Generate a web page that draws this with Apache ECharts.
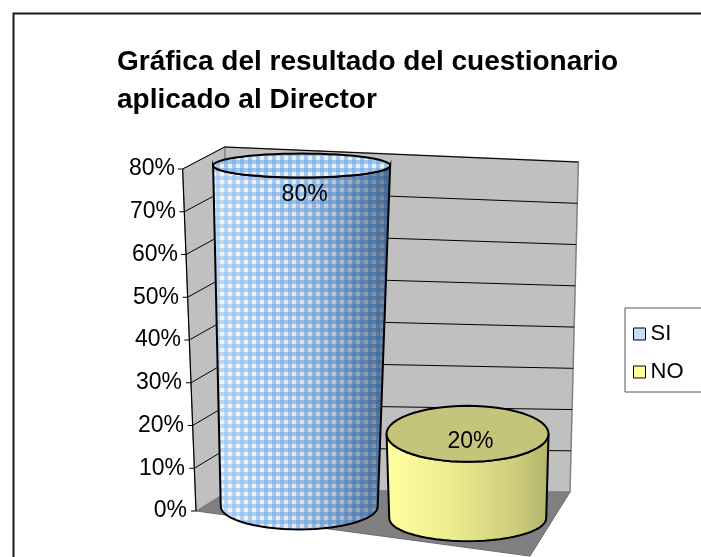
<!DOCTYPE html>
<html lang="es">
<head>
<meta charset="UTF-8">
<title>Gráfica del resultado del cuestionario</title>
<script src="https://cdn.jsdelivr.net/npm/echarts@6/dist/echarts.min.js"></script>
</head>
<body style="margin:0;background:#fff">
<div id="myChart" style="width:701px;height:557px;"></div>
<script>
    var categories = ['SI', 'NO'];
    var values = [0.8, 0.2];
    var yTicks = [0, 0.1, 0.2, 0.3, 0.4, 0.5, 0.6, 0.7, 0.8];
    var yMax = 0.8;

    var FONT = 'Liberation Sans, Arial, sans-serif';

    // little gingham tile for the SI cylinder
    function makePattern() {
        var c = document.createElement('canvas');
        c.width = 8;
        c.height = 8;
        var g = c.getContext('2d');
        g.fillStyle = '#eaeff4';
        g.fillRect(0, 0, 8, 8);
        g.fillStyle = 'rgba(110,170,235,0.6)';
        g.fillRect(0, 0, 8, 4);
        g.fillRect(0, 0, 4, 8);
        return c;
    }
    var pattern = { image: makePattern(), repeat: 'repeat' };

    function lerp(a, b, t) { return a + (b - a) * t; }

    // fake 3d: front plane point (px, value) pushed back by depth w (0 front .. 1 back)
    function proj(cs, api, px, v, w, tilt) {
        var u = (px - cs.x) / cs.width;
        var t = v / yMax;
        var py = api.coord([0, v])[1];
        var sx = px;
        if (tilt) sx += (px - (cs.x + cs.width / 2)) * 0.08 * t;
        var sy = py + (px - cs.x) * 0.135;
        var dx = lerp(lerp(34, 40, u), lerp(42, 35, u), t);
        var dy = lerp(lerp(-21, -64, u), lerp(-22, -52, u), t);
        return [sx + w * dx, sy + w * dy];
    }

    function arc(cx, cy, rx, ry, a0, a1, n) {
        var pts = [];
        for (var i = 0; i <= n; i++) {
            var a = a0 + (a1 - a0) * i / n;
            pts.push([cx + rx * Math.cos(a), cy + ry * Math.sin(a)]);
        }
        return pts;
    }

    function renderWalls(params, api) {
        var cs = params.coordSys;
        var v = api.value(1);
        var L = cs.x, R = cs.x + cs.width;
        var children = [];
        if (params.dataIndex === 0) {
            children.push({
                type: 'polygon',
                shape: { points: [proj(cs, api, L, 0, 0, true), proj(cs, api, R, 0, 0, true), proj(cs, api, R, 0, 1, true), proj(cs, api, L, 0, 1, true)] },
                style: { fill: '#808080', stroke: '#6a6a6a', lineWidth: 1 }
            });
            children.push({
                type: 'polygon',
                shape: { points: [proj(cs, api, L, 0, 1, true), proj(cs, api, R, 0, 1, true), proj(cs, api, R, yMax, 1, true), proj(cs, api, L, yMax, 1, true)] },
                style: { fill: '#c0c0c0', stroke: '#808080', lineWidth: 1.5 }
            });
            children.push({
                type: 'polygon',
                shape: { points: [proj(cs, api, L, 0, 0, true), proj(cs, api, L, 0, 1, true), proj(cs, api, L, yMax, 1, true), proj(cs, api, L, yMax, 0, true)] },
                style: { fill: '#c0c0c0', stroke: '#808080', lineWidth: 1 }
            });
            children.push({
                type: 'line',
                shape: (function () {
                    var a = proj(cs, api, L, 0, 0, true), b = proj(cs, api, L, yMax, 0, true);
                    return { x1: a[0], y1: a[1], x2: b[0], y2: b[1] };
                })(),
                style: { stroke: '#000', lineWidth: 1.2 }
            });
        } else {
            var p0 = proj(cs, api, L, v, 0, true);
            var p1 = proj(cs, api, L, v, 1, true);
            var p2 = proj(cs, api, R, v, 1, true);
            children.push({ type: 'polyline', shape: { points: [p0, p1, p2] }, style: { stroke: '#000', lineWidth: 1, fill: null } });
        }
        var pt = proj(cs, api, L, v, 0, true);
        children.push({ type: 'line', shape: { x1: pt[0] - 5, y1: pt[1], x2: pt[0], y2: pt[1] }, style: { stroke: '#000', lineWidth: 1 } });
        return { type: 'group', children: children };
    }

    function renderCylinder(params, api) {
        var cs = params.coordSys;
        var cat = api.value(0), v = api.value(1);
        var band = api.size([1, 0])[0];
        var px = api.coord([cat, 0])[0];
        var b = proj(cs, api, px, 0, 0.5, false);
        var t = proj(cs, api, px, v, 0.5, false);
        var rxB = band * 0.47, rxT = band * (0.47 + 0.06 * v / yMax);
        var ryB = 23, ryT = 33.3 - 26.7 * v;
        var body = [].concat(arc(b[0] + 2, b[1], rxB, ryB, Math.PI, 0, 30), arc(t[0] + 2, t[1], rxT, ryT, 0, Math.PI, 30));
        var lid = arc(t[0] + 2, t[1], rxT, ryT, 0, Math.PI * 2, 60);
        var isSI = cat === 0;
        var shade = {
            type: 'linear', x: 0, y: 0, x2: 1, y2: 0,
            colorStops: isSI ? [
                { offset: 0, color: 'rgba(255,255,255,0.35)' },
                { offset: 0.3, color: 'rgba(255,255,255,0.05)' },
                { offset: 0.65, color: 'rgba(0,40,90,0.18)' },
                { offset: 1, color: 'rgba(0,30,70,0.55)' }
            ] : [
                { offset: 0, color: '#ffffa0' },
                { offset: 0.4, color: '#ecec8e' },
                { offset: 0.8, color: '#cccc7c' },
                { offset: 1, color: '#b2b26a' }
            ]
        };
        var children = [];
        if (isSI) {
            children.push({ type: 'polygon', shape: { points: body }, style: { fill: pattern, stroke: null } });
        }
        children.push({ type: 'polygon', shape: { points: body }, style: { fill: shade, stroke: '#000', lineWidth: 2 } });
        children.push({
            type: 'polygon', shape: { points: lid },
            style: { fill: isSI ? pattern : '#c4c47a', stroke: '#000', lineWidth: 2 }
        });
        children.push({
            type: 'text',
            style: {
                text: Math.round(v * 100) + '%',
                x: t[0] + 5,
                y: t[1] + 29 - (ryT - 12) * 1.3,
                align: 'center', verticalAlign: 'middle',
                fontSize: 23, fontFamily: FONT, fill: '#000'
            }
        });
        return { type: 'group', children: children };
    }

    var rich = {};
    for (var k = 0; k <= 8; k++) {
        rich['t' + k] = { fontSize: 23, fontFamily: FONT, color: '#000', padding: [0, Math.round(1.5 * k), 0, 0] };
    }

    var myChart = echarts.init(document.getElementById('myChart'));
    var option = {
        animation: false,
        backgroundColor: '#fff',
        graphic: [{
            type: 'rect', left: 11, top: 11,
            shape: { width: 720, height: 600 },
            style: { fill: 'none', stroke: '#1a1a1a', lineWidth: 2 }
        }],
        title: {
            text: 'Gráfica del resultado del cuestionario\naplicado al Director',
            left: 117, top: 43, padding: 0,
            textStyle: { fontFamily: FONT, fontSize: 28, fontWeight: 'bold', color: '#000', lineHeight: 38 }
        },
        legend: {
            orient: 'vertical',
            left: 625, top: 308,
            padding: [15, 30, 9, 8],
            itemGap: 16,
            itemWidth: 12, itemHeight: 12,
            icon: 'rect',
            borderColor: '#555', borderWidth: 1,
            itemStyle: { borderColor: '#000', borderWidth: 1 },
            textStyle: { fontFamily: FONT, fontSize: 22, color: '#000' },
            data: categories
        },
        grid: { left: 196, top: 169, width: 334, height: 342 },
        xAxis: {
            type: 'category', data: categories, show: false
        },
        yAxis: {
            type: 'value', min: 0, max: yMax, interval: 0.1,
            axisLine: { show: false }, axisTick: { show: false }, splitLine: { show: false },
            axisLabel: {
                margin: 9,
                formatter: function (val) {
                    var i = Math.round(val * 10);
                    return '{t' + i + '|' + Math.round(val * 100) + '%}';
                },
                rich: rich
            }
        },
        series: [{
            type: 'custom', name: 'walls', clip: false, silent: true, z: 1,
            renderItem: renderWalls,
            data: yTicks.map(function (v) { return [0, v]; })
        }].concat(categories.map(function (c, i) {
            return {
                type: 'custom', name: c, clip: false, z: 2 + i,
                itemStyle: { color: i === 0 ? '#c8dcf2' : '#ffff99' },
                renderItem: renderCylinder,
                data: [[i, values[i]]]
            };
        }))
    };
    myChart.setOption(option);
</script>
</body>
</html>
